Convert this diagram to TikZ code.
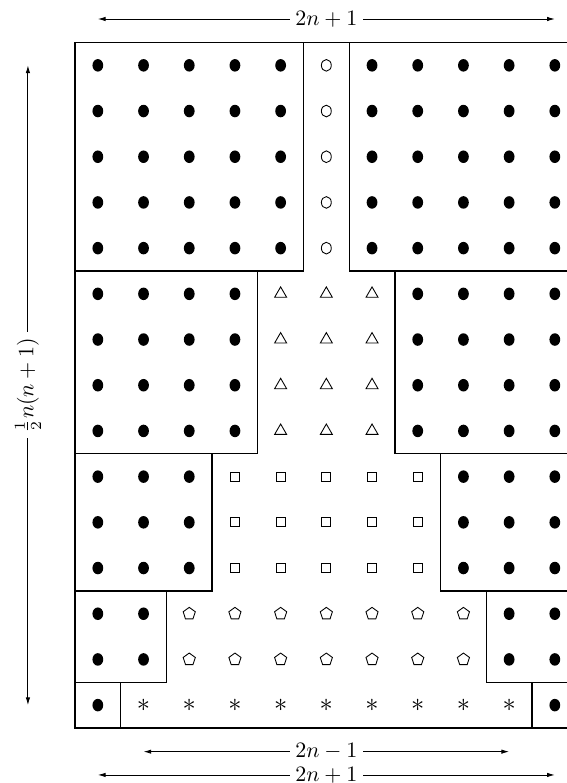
\documentclass[tikz,border=0pt]{standalone}
\usepackage{tikz}
\usetikzlibrary{shapes.geometric, arrows.meta, positioning, calc}
\usepackage{amsmath}

\begin{document}
\begin{tikzpicture}[
  x=0.73cm, y=0.73cm,
  blockbox/.style={draw, line width=0.6pt},
  fulldot/.style={ellipse, fill=black, minimum width=4.9pt, minimum height=5.7pt, inner sep=0pt},
  ringdot/.style={ellipse, draw, line width=0.4pt, minimum width=4.5pt, minimum height=5.3pt, inner sep=0pt},
  tridot/.style={regular polygon, regular polygon sides=3, draw, line width=0.4pt, minimum size=6.3pt, inner sep=0pt},
  sqdot/.style={rectangle, draw, line width=0.4pt, minimum size=4pt, inner sep=0pt},
  pentdot/.style={regular polygon, regular polygon sides=5, draw, line width=0.4pt, minimum size=5.8pt, inner sep=0pt},
  astdot/.style={inner sep=0pt, font=\large},
  arr/.style={{Latex[length=3.5pt,width=2pt]}-{Latex[length=3.5pt,width=2pt]}, line width=0.4pt},
  lbl/.style={fill=white, inner sep=2.5pt}]

  \useasboundingbox (-1.641,-1.204) rectangle (10.766,15.930);
  \clip (-1.641,-1.204) rectangle (10.766,15.930);

  % Outer frame
  \draw[blockbox] (0,0) rectangle (11,15);

  \foreach \b/\sym/\txt in {1/astdot/$\ast$, 2/pentdot/, 3/sqdot/, 4/tridot/, 5/ringdot/} {
    \pgfmathtruncatemacro{\ylo}{\b*(\b-1)/2}
    \pgfmathtruncatemacro{\yhi}{\ylo+\b-1}
    \pgfmathtruncatemacro{\bm}{\b-1}
    \pgfmathtruncatemacro{\rlo}{11-\b}
    \pgfmathtruncatemacro{\mhi}{10-\b}
    \draw[blockbox] (0,\ylo) rectangle (\b,\ylo+\b);
    \draw[blockbox] (\rlo,\ylo) rectangle (11,\ylo+\b);
    \foreach \j in {\ylo,...,\yhi} {
      \foreach \i in {0,...,\bm} {
        \node[fulldot] (dot-\i-\j) at (\i+0.5,\j+0.5) {};
      }
      \foreach \i in {\rlo,...,10} {
        \node[fulldot] (dot-\i-\j) at (\i+0.5,\j+0.5) {};
      }
      \foreach \i in {\b,...,\mhi} {
        \node[\sym] (sym-\i-\j) at (\i+0.5,\j+0.5) {\txt};
      }
    }
  }

  % Measures
  \coordinate (topL) at (0.5,15.514);
  \coordinate (topR) at (10.5,15.514);
  \coordinate (midL) at (1.5,-0.518);
  \coordinate (midR) at (9.5,-0.518);
  \coordinate (botL) at (0.5,-1.028);
  \coordinate (botR) at (10.5,-1.028);
  \coordinate (sideB) at (-1.03,0.5);
  \coordinate (sideT) at (-1.03,14.5);

  \draw[arr] (topL) -- node[lbl] (topw) {$2n+1$} (topR);
  \draw[arr] (midL) -- node[lbl] (midw) {$2n-1$} (midR);
  \draw[arr] (botL) -- node[lbl] (botw) {$2n+1$} (botR);
  \draw[arr] (sideB) -- node[lbl, rotate=90] (sideh) {$\frac{1}{2}n(n+1)$} (sideT);
\end{tikzpicture}
\end{document}
